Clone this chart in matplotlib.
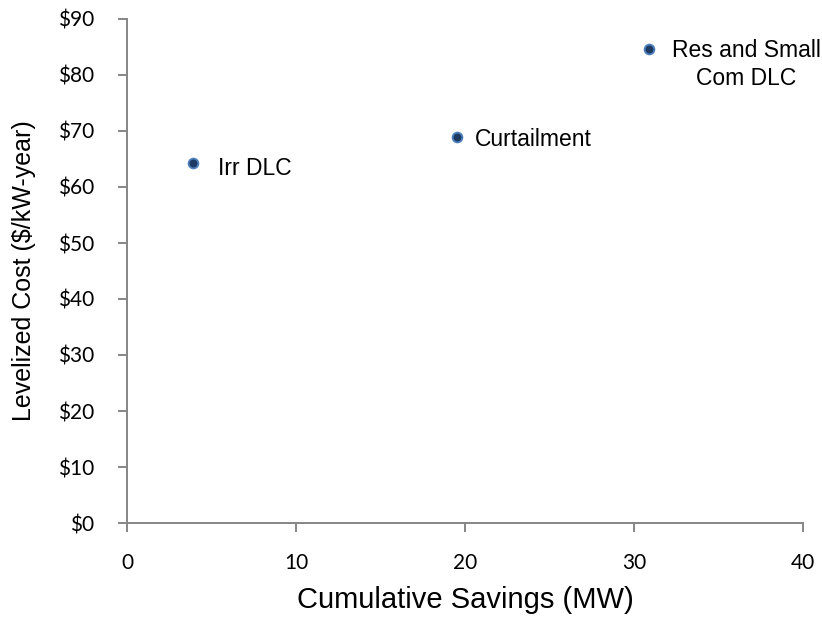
import matplotlib.pyplot as plt
from matplotlib import font_manager

plt.rcParams['font.family'] = ['Liberation Sans', 'DejaVu Sans']

names = ["Irr DLC", "Curtailment", "Res and Small\nCom DLC"]
savings = [3.9, 19.5, 30.9]
cost = [64.3, 68.9, 84.6]
xticks = [0, 10, 20, 30, 40]
yticks = list(range(0, 91, 10))
ylabels = ['$%d' % v for v in yticks]

installed = {f.name for f in font_manager.fontManager.ttflist}
if 'Liberation Sans Narrow' in installed:
    note_font, note_size = 'Liberation Sans Narrow', 20
else:
    note_font, note_size = 'Liberation Sans', 16.5

fig = plt.figure(figsize=(8.22, 6.25), dpi=100)
ax = fig.add_axes([0.1545, 0.1632, 0.8224, 0.8064])

ax.scatter(savings, cost, s=50, color='#1f3b64', edgecolors='#4f81bd',
           linewidths=1.3, zorder=3)

# label offsets in points
offsets = [(18, -4), (13, -1.5), (70, -11)]
aligns = ['left', 'left', 'center']
for n, x, y, off, ha in zip(names, savings, cost, offsets, aligns):
    ax.annotate(n, (x, y), xytext=off, textcoords='offset points',
                ha=ha, va='center', fontsize=note_size, family=note_font,
                multialignment='center', linespacing=1.3)

ax.set_xlim(0, 40)
ax.set_ylim(0, 90)
ax.set_xticks(xticks)
ax.set_yticks(yticks)
ax.set_yticklabels(ylabels)
for lab in ax.get_xticklabels() + ax.get_yticklabels():
    lab.set_family(['Lato', 'DejaVu Sans'])

for s in ['top', 'right']:
    ax.spines[s].set_visible(False)
for s in ['left', 'bottom']:
    ax.spines[s].set_color('#868686')
    ax.spines[s].set_linewidth(1.4)
ax.tick_params(color='#868686', width=1.4, length=6.5, labelsize=15)
ax.tick_params(axis='x', pad=15)
ax.tick_params(axis='y', pad=17)

ax.set_xlabel('Cumulative Savings (MW)', fontsize=21)
ax.set_ylabel('Levelized Cost ($/kW-year)', fontsize=18)
ax.xaxis.set_label_coords(0.5, -0.125)
ax.yaxis.set_label_coords(-0.135, 0.5)

plt.savefig('out.png', dpi=100)
